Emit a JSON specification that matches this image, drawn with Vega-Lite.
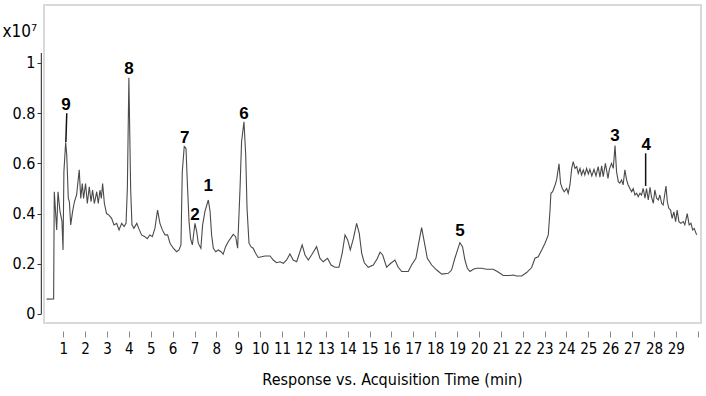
{
  "$schema": "https://vega.github.io/schema/vega-lite/v6.json",
  "width": 657,
  "height": 318,
  "autosize": {"type": "none"},
  "padding": {"left": 44, "top": 5, "right": 5, "bottom": 73},
  "background": "white",
  "config": {
    "view": {"stroke": "#d9d9d9", "strokeWidth": 2},
    "font": "DejaVu Sans Condensed",
    "axis": {"labelFont": "DejaVu Sans Condensed", "titleFont": "DejaVu Sans Condensed", "labelColor": "#000", "titleColor": "#000", "grid": false, "labelOverlap": false},
    "axisX": {"labelOverlap": false},
    "axisQuantitative": {"labelOverlap": false}
  },
  "encoding": {
    "x": {"field": "t", "type": "quantitative",
      "scale": {"domain": [0.12, 30.15], "nice": false, "zero": false},
      "axis": {"values": [1,2,3,4,5,6,7,8,9,10,11,12,13,14,15,16,17,18,19,20,21,22,23,24,25,26,27,28,29,30],
        "format": "d", "labelExpr": "datum.value == 30 ? '' : datum.label",
        "domain": false, "offset": 8, "tickSize": 6, "tickColor": "#8a8a8a", "tickWidth": 1,
        "labelFontSize": 15, "labelPadding": 4, "labelFlush": false, "labelOverlap": false, "labelBound": false, "labelSeparation": 0,
        "title": "Response vs. Acquisition Time (min)", "titleFontSize": 16, "titleFontWeight": "normal",
        "titlePadding": 15, "titleX": 348}},
    "y": {"field": "v", "type": "quantitative",
      "scale": {"domain": [-0.036, 1.231], "nice": false, "zero": false},
      "axis": {"values": [0, 0.2, 0.4, 0.6, 0.8, 1], "labelExpr": "datum.value + ''",
        "domain": false, "offset": 3, "tickSize": 4, "tickColor": "#333", "labelFontSize": 16, "labelPadding": 2,
        "title": "x10⁷", "titleAngle": 0, "titleFontSize": 17, "titleFontWeight": "normal",
        "titleAlign": "left", "titleBaseline": "alphabetic", "titleX": -39, "titleY": 31}}
  },
  "layer": [
    {
      "data": {"values": [
        {"t":0.24,"v":0.059},{"t":0.56,"v":0.06},{"t":0.59,"v":0.487},{"t":0.70,"v":0.335},{"t":0.76,"v":0.487},{"t":0.85,"v":0.41},{"t":0.94,"v":0.37},{"t":0.99,"v":0.255},{"t":1.03,"v":0.567},{"t":1.11,"v":0.684},{"t":1.16,"v":0.633},{"t":1.23,"v":0.461},{"t":1.28,"v":0.447},{"t":1.34,"v":0.355},{"t":1.43,"v":0.41},{"t":1.51,"v":0.447},{"t":1.61,"v":0.474},{"t":1.73,"v":0.574},{"t":1.80,"v":0.46},{"t":1.87,"v":0.52},{"t":1.93,"v":0.46},{"t":2.02,"v":0.52},{"t":2.10,"v":0.44},{"t":2.19,"v":0.507},{"t":2.27,"v":0.447},{"t":2.34,"v":0.494},{"t":2.42,"v":0.44},{"t":2.53,"v":0.487},{"t":2.60,"v":0.44},{"t":2.68,"v":0.494},{"t":2.74,"v":0.46},{"t":2.80,"v":0.52},{"t":2.88,"v":0.44},{"t":2.98,"v":0.40},{"t":3.09,"v":0.394},{"t":3.21,"v":0.381},{"t":3.32,"v":0.355},{"t":3.44,"v":0.361},{"t":3.55,"v":0.335},{"t":3.67,"v":0.361},{"t":3.78,"v":0.348},{"t":3.87,"v":0.361},{"t":3.93,"v":0.50},{"t":4.00,"v":0.941},{"t":4.08,"v":0.50},{"t":4.14,"v":0.355},{"t":4.23,"v":0.341},{"t":4.36,"v":0.361},{"t":4.45,"v":0.341},{"t":4.58,"v":0.315},{"t":4.73,"v":0.308},{"t":4.84,"v":0.30},{"t":4.96,"v":0.315},{"t":5.07,"v":0.308},{"t":5.19,"v":0.341},{"t":5.31,"v":0.414},{"t":5.42,"v":0.361},{"t":5.53,"v":0.335},{"t":5.65,"v":0.315},{"t":5.77,"v":0.315},{"t":5.88,"v":0.282},{"t":6.03,"v":0.262},{"t":6.18,"v":0.248},{"t":6.29,"v":0.255},{"t":6.38,"v":0.275},{"t":6.44,"v":0.567},{"t":6.53,"v":0.667},{"t":6.61,"v":0.66},{"t":6.67,"v":0.527},{"t":6.75,"v":0.368},{"t":6.82,"v":0.30},{"t":6.90,"v":0.275},{"t":7.02,"v":0.361},{"t":7.10,"v":0.328},{"t":7.17,"v":0.282},{"t":7.29,"v":0.262},{"t":7.37,"v":0.355},{"t":7.48,"v":0.41},{"t":7.63,"v":0.454},{"t":7.71,"v":0.41},{"t":7.78,"v":0.315},{"t":7.86,"v":0.262},{"t":7.97,"v":0.248},{"t":8.09,"v":0.255},{"t":8.21,"v":0.248},{"t":8.31,"v":0.238},{"t":8.42,"v":0.268},{"t":8.54,"v":0.288},{"t":8.67,"v":0.304},{"t":8.77,"v":0.317},{"t":8.88,"v":0.308},{"t":8.97,"v":0.262},{"t":9.08,"v":0.50},{"t":9.15,"v":0.686},{"t":9.26,"v":0.766},{"t":9.34,"v":0.633},{"t":9.40,"v":0.421},{"t":9.49,"v":0.282},{"t":9.58,"v":0.268},{"t":9.68,"v":0.262},{"t":9.79,"v":0.242},{"t":9.91,"v":0.225},{"t":10.07,"v":0.228},{"t":10.22,"v":0.231},{"t":10.45,"v":0.231},{"t":10.60,"v":0.215},{"t":10.75,"v":0.204},{"t":10.91,"v":0.208},{"t":11.06,"v":0.202},{"t":11.21,"v":0.215},{"t":11.36,"v":0.239},{"t":11.51,"v":0.215},{"t":11.67,"v":0.208},{"t":11.77,"v":0.235},{"t":11.92,"v":0.275},{"t":12.05,"v":0.235},{"t":12.20,"v":0.215},{"t":12.35,"v":0.235},{"t":12.58,"v":0.268},{"t":12.73,"v":0.222},{"t":12.88,"v":0.208},{"t":13.08,"v":0.222},{"t":13.24,"v":0.195},{"t":13.42,"v":0.186},{"t":13.60,"v":0.186},{"t":13.75,"v":0.242},{"t":13.88,"v":0.315},{"t":14.00,"v":0.295},{"t":14.12,"v":0.255},{"t":14.26,"v":0.30},{"t":14.41,"v":0.361},{"t":14.53,"v":0.321},{"t":14.64,"v":0.242},{"t":14.76,"v":0.204},{"t":14.94,"v":0.186},{"t":15.17,"v":0.195},{"t":15.35,"v":0.22},{"t":15.48,"v":0.246},{"t":15.60,"v":0.235},{"t":15.78,"v":0.186},{"t":15.93,"v":0.199},{"t":16.16,"v":0.215},{"t":16.31,"v":0.186},{"t":16.47,"v":0.169},{"t":16.77,"v":0.169},{"t":16.92,"v":0.195},{"t":17.12,"v":0.222},{"t":17.23,"v":0.275},{"t":17.38,"v":0.344},{"t":17.50,"v":0.288},{"t":17.64,"v":0.222},{"t":17.84,"v":0.195},{"t":18.07,"v":0.175},{"t":18.30,"v":0.159},{"t":18.60,"v":0.162},{"t":18.75,"v":0.175},{"t":18.90,"v":0.222},{"t":19.13,"v":0.284},{"t":19.25,"v":0.268},{"t":19.36,"v":0.215},{"t":19.47,"v":0.182},{"t":19.59,"v":0.169},{"t":19.74,"v":0.178},{"t":19.90,"v":0.182},{"t":20.12,"v":0.182},{"t":20.35,"v":0.178},{"t":20.65,"v":0.178},{"t":20.84,"v":0.169},{"t":21.11,"v":0.153},{"t":21.42,"v":0.153},{"t":21.57,"v":0.155},{"t":21.72,"v":0.151},{"t":21.95,"v":0.151},{"t":22.18,"v":0.165},{"t":22.41,"v":0.185},{"t":22.56,"v":0.222},{"t":22.71,"v":0.228},{"t":22.87,"v":0.255},{"t":23.02,"v":0.282},{"t":23.17,"v":0.315},{"t":23.25,"v":0.414},{"t":23.29,"v":0.481},{"t":23.37,"v":0.487},{"t":23.48,"v":0.514},{"t":23.55,"v":0.534},{"t":23.66,"v":0.598},{"t":23.73,"v":0.521},{"t":23.81,"v":0.50},{"t":23.90,"v":0.487},{"t":24.01,"v":0.50},{"t":24.08,"v":0.481},{"t":24.16,"v":0.514},{"t":24.24,"v":0.58},{"t":24.31,"v":0.607},{"t":24.39,"v":0.58},{"t":24.47,"v":0.587},{"t":24.54,"v":0.56},{"t":24.62,"v":0.58},{"t":24.69,"v":0.554},{"t":24.77,"v":0.574},{"t":24.84,"v":0.554},{"t":24.92,"v":0.58},{"t":25.00,"v":0.558},{"t":25.07,"v":0.576},{"t":25.16,"v":0.55},{"t":25.26,"v":0.576},{"t":25.35,"v":0.55},{"t":25.45,"v":0.587},{"t":25.53,"v":0.545},{"t":25.61,"v":0.59},{"t":25.68,"v":0.547},{"t":25.78,"v":0.60},{"t":25.90,"v":0.54},{"t":25.96,"v":0.576},{"t":26.06,"v":0.60},{"t":26.14,"v":0.58},{"t":26.22,"v":0.671},{"t":26.29,"v":0.567},{"t":26.37,"v":0.527},{"t":26.44,"v":0.521},{"t":26.52,"v":0.534},{"t":26.59,"v":0.514},{"t":26.67,"v":0.574},{"t":26.75,"v":0.534},{"t":26.82,"v":0.514},{"t":26.90,"v":0.50},{"t":26.98,"v":0.487},{"t":27.05,"v":0.50},{"t":27.13,"v":0.474},{"t":27.21,"v":0.481},{"t":27.28,"v":0.467},{"t":27.36,"v":0.481},{"t":27.43,"v":0.474},{"t":27.51,"v":0.50},{"t":27.59,"v":0.461},{"t":27.66,"v":0.50},{"t":27.74,"v":0.454},{"t":27.82,"v":0.505},{"t":27.89,"v":0.465},{"t":27.97,"v":0.441},{"t":28.04,"v":0.494},{"t":28.12,"v":0.461},{"t":28.20,"v":0.454},{"t":28.27,"v":0.474},{"t":28.35,"v":0.441},{"t":28.42,"v":0.434},{"t":28.55,"v":0.51},{"t":28.61,"v":0.447},{"t":28.68,"v":0.421},{"t":28.76,"v":0.414},{"t":28.83,"v":0.381},{"t":28.91,"v":0.407},{"t":28.99,"v":0.368},{"t":29.06,"v":0.414},{"t":29.14,"v":0.368},{"t":29.23,"v":0.361},{"t":29.34,"v":0.368},{"t":29.41,"v":0.355},{"t":29.52,"v":0.40},{"t":29.61,"v":0.355},{"t":29.69,"v":0.361},{"t":29.77,"v":0.335},{"t":29.84,"v":0.341},{"t":29.95,"v":0.315}
      ]},
      "mark": {"type": "line", "color": "#4a4a4a", "strokeWidth": 1.1, "interpolate": "linear"}
    },
    {
      "data": {"values": [{"t": 0, "v": 0, "v2": 1.04}]},
      "mark": {"type": "rule", "color": "#444", "strokeWidth": 1.2, "clip": false},
      "encoding": {"y2": {"field": "v2"}}
    },
    {
      "data": {"values": [{"t": 1.16, "t2": 1.12, "v": 0.80, "v2": 0.685}, {"t": 27.62, "t2": 27.62, "v": 0.64, "v2": 0.51}]},
      "mark": {"type": "rule", "color": "#111", "strokeWidth": 1.5},
      "encoding": {"x2": {"field": "t2"}, "y2": {"field": "v2"}}
    },
    {
      "data": {"values": [
        {"label": "9", "t": 1.12, "v": 0.812},
        {"label": "8", "t": 4.0, "v": 0.956},
        {"label": "7", "t": 6.55, "v": 0.68},
        {"label": "2", "t": 7.02, "v": 0.374},
        {"label": "1", "t": 7.63, "v": 0.49},
        {"label": "6", "t": 9.26, "v": 0.777},
        {"label": "5", "t": 19.13, "v": 0.311},
        {"label": "3", "t": 26.22, "v": 0.689},
        {"label": "4", "t": 27.65, "v": 0.653}
      ]},
      "mark": {"type": "text", "font": "Liberation Sans", "fontWeight": "bold", "fontSize": 17, "baseline": "alphabetic", "align": "center", "color": "#000"},
      "encoding": {"text": {"field": "label"}}
    }
  ]
}
